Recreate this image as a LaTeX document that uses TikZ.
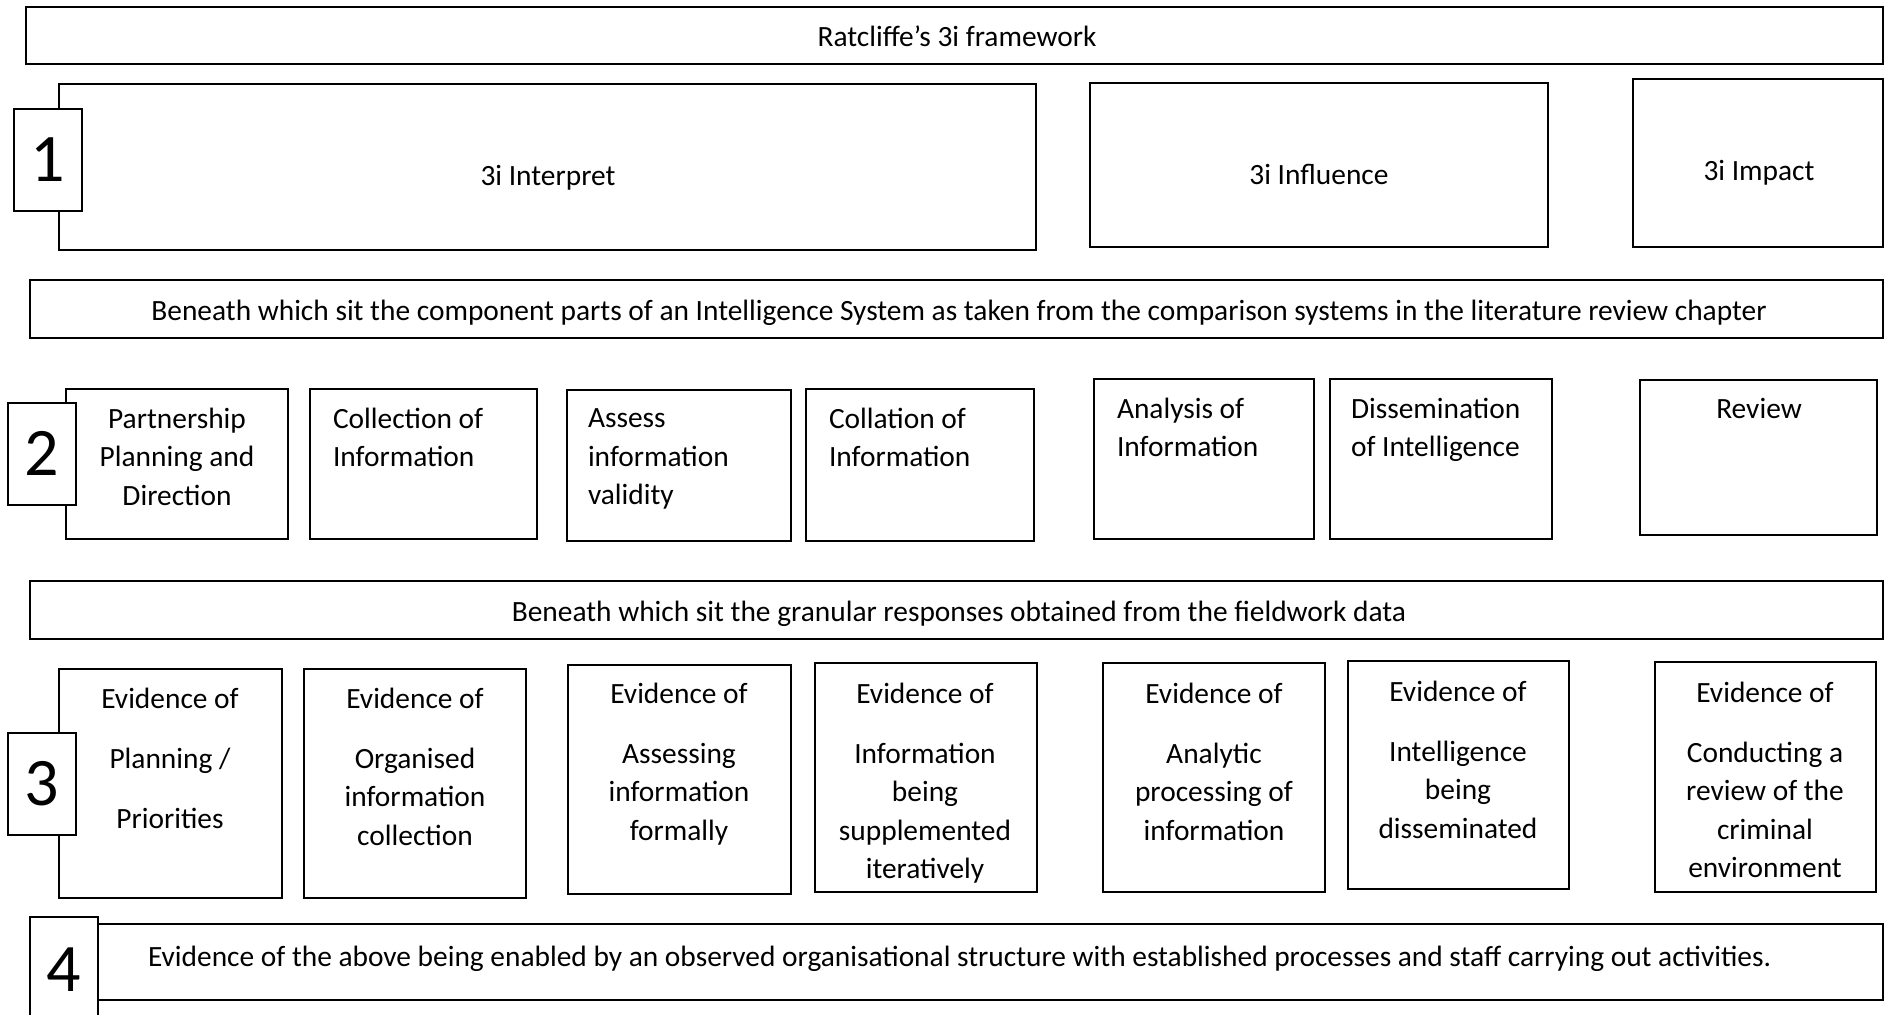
\documentclass[tikz,border=0pt]{standalone}
\usepackage{fontspec}
\setmainfont{Carlito}
\begin{document}
\begin{tikzpicture}[x=0.5pt,y=-0.5pt,line width=1pt,every node/.style={font=\fontsize{14.7}{19.25}\selectfont,inner sep=0pt},
  numbox/.style={draw,fill=white,minimum width=34pt,minimum height=51pt,font=\fontsize{34}{40}\selectfont}]
\useasboundingbox (0,0) rectangle (1887,1014);
% heading
\draw (26,7) rectangle (1883,64);
\node (title) at (957,36) {Ratcliffe’s 3i framework};
% level 1
\draw (59,84) rectangle (1036,250);
\draw (1090,83) rectangle (1548,247);
\draw (1633,79) rectangle (1883,247);
\node (interpret) at (548,178) {3i Interpret};
\node (influence) at (1319,174) {3i Influence};
\node (impact) at (1759,173) {3i Impact};
% level 2
\draw (30,280) rectangle (1883,338);
\node (bar2) at (959,313) {Beneath which sit the component parts of an Intelligence System as taken from the comparison systems in the literature review chapter};
\draw (66,389) rectangle (288,539);
\draw (310,389) rectangle (537,539);
\draw (567,390) rectangle (791,541);
\draw (806,389) rectangle (1034,541);
\draw (1094,379) rectangle (1314,539);
\draw (1330,379) rectangle (1552,539);
\draw (1640,380) rectangle (1877,535);
\node[anchor=north,align=center] (plan) at (177,407) {Partnership\\Planning and\\Direction};
\node[anchor=north west,align=left] (collect) at (332,407) {Collection of\\Information};
\node[anchor=north west,align=left] (assess) at (587,408) {Assess\\information\\validity};
\node[anchor=north west,align=left] (collate) at (828,407) {Collation of\\Information};
\node[anchor=north west,align=left] (analyse) at (1116,397) {Analysis of\\Information};
\node[anchor=north west,align=left] (dissem) at (1350,397) {Dissemination\\of Intelligence};
\node[anchor=north] (review) at (1759,397) {Review};
% level 3
\draw (30,581) rectangle (1883,639);
\node (bar3) at (959,614) {Beneath which sit the granular responses obtained from the fieldwork data};
\draw (59,669) rectangle (282,898);
\draw (304,669) rectangle (526,898);
\draw (568,665) rectangle (791,894);
\draw (815,663) rectangle (1037,892);
\draw (1103,663) rectangle (1325,892);
\draw (1348,661) rectangle (1569,889);
\draw (1655,662) rectangle (1876,892);
\node[anchor=north,align=center] (evplan) at (170,687) {Evidence of\\[10.75pt]Planning /\\[10.75pt]Priorities};
\node[anchor=north,align=center] (evcollect) at (415,687) {Evidence of\\[10.75pt]Organised\\information\\collection};
\node[anchor=north,align=center] (evassess) at (679,682) {Evidence of\\[10.75pt]Assessing\\information\\formally};
\node[anchor=north,align=center] (evcollate) at (925,682) {Evidence of\\[10.75pt]Information\\being\\supplemented\\iteratively};
\node[anchor=north,align=center] (evanalyse) at (1214,682) {Evidence of\\[10.75pt]Analytic\\processing of\\information};
\node[anchor=north,align=center] (evdissem) at (1458,680) {Evidence of\\[10.75pt]Intelligence\\being\\disseminated};
\node[anchor=north,align=center] (evreview) at (1765,681) {Evidence of\\[10.75pt]Conducting a\\review of the\\criminal\\environment};
% level 4
\draw (97,924) rectangle (1883,1000);
\node[anchor=west] (bar4) at (147,959) {Evidence of the above being enabled by an observed organisational structure with established processes and staff carrying out activities.};
% level numbers
\node[numbox] (n1) at (48,159.5) {1};
\node[numbox] (n2) at (41.5,453.5) {2};
\node[numbox] (n3) at (42,783.5) {3};
\node[numbox,minimum height=53pt] (n4) at (63.5,970) {4};
\end{tikzpicture}
\end{document}
